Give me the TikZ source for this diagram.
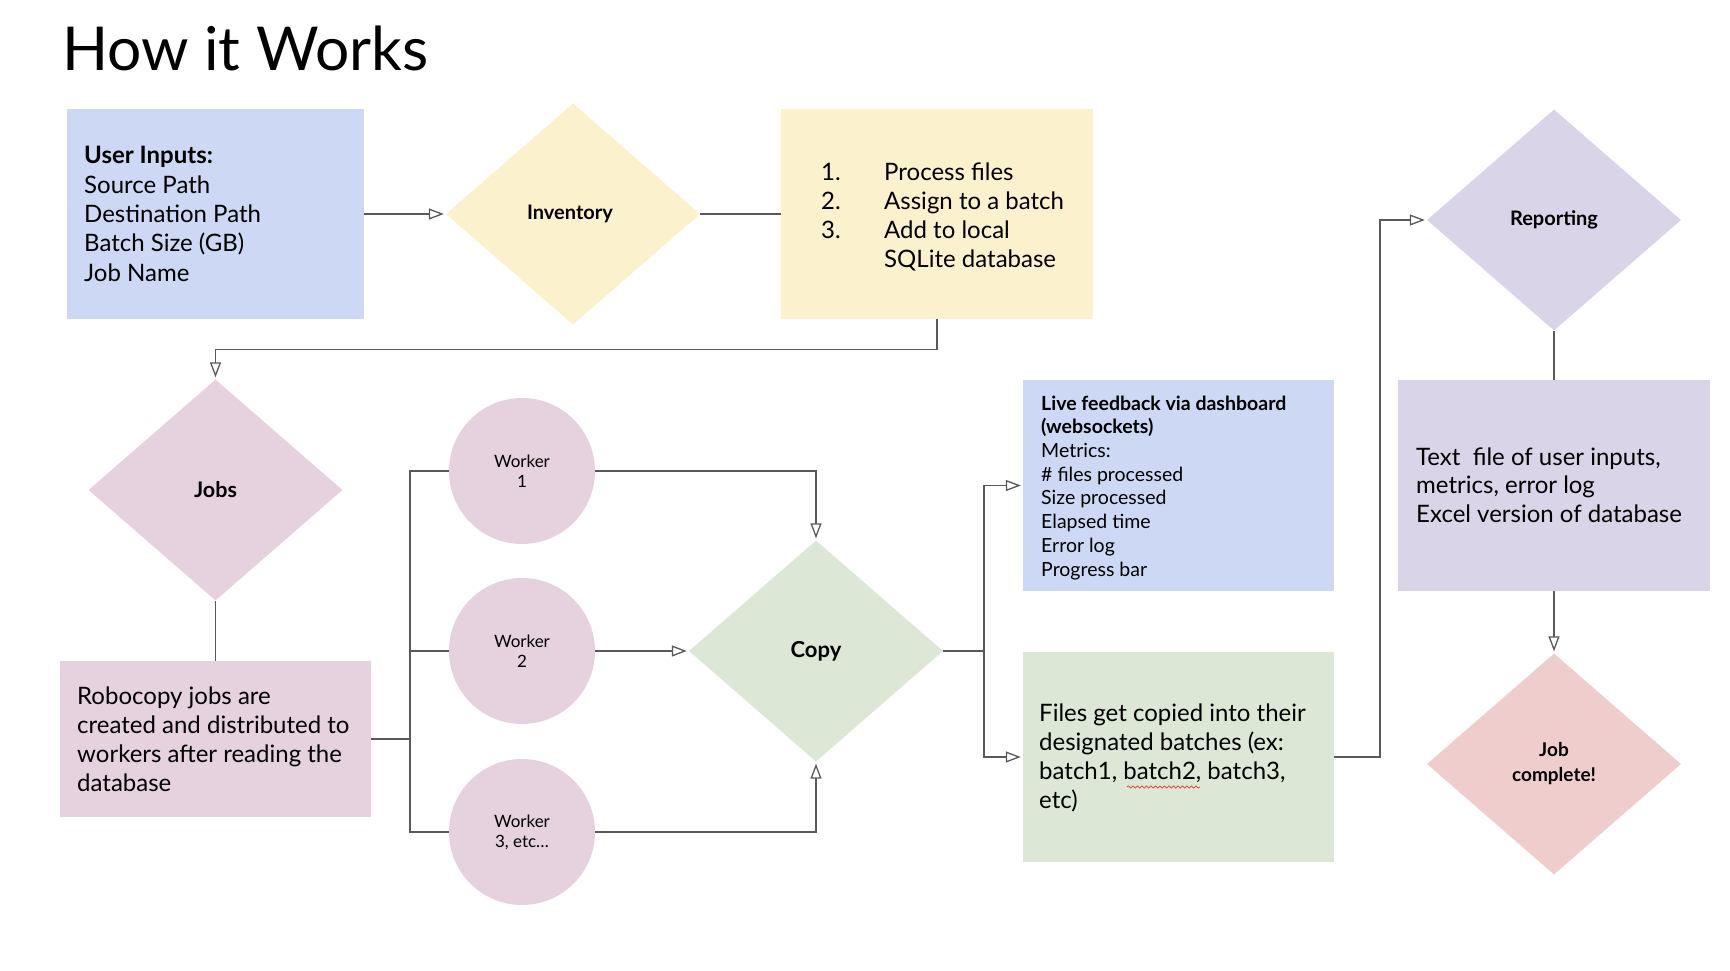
\documentclass[tikz,border=0pt]{standalone}
\usepackage{fontspec}
\setmainfont{Lato}
\usetikzlibrary{shapes.geometric,arrows.meta,decorations.pathmorphing}
\definecolor{cblue}{HTML}{CDD9F4}
\definecolor{cyel}{HTML}{FCF1CD}
\definecolor{cpink}{HTML}{E6D2DE}
\definecolor{cgreen}{HTML}{DCE8D5}
\definecolor{cpurp}{HTML}{D9D4E8}
\definecolor{cred}{HTML}{EFCDCD}
\definecolor{cline}{HTML}{595959}
\definecolor{csquig}{HTML}{E03A3A}
\begin{document}
\begin{tikzpicture}[x=1pt,y=-1pt,
  rbox/.style={rectangle, draw=none, inner sep=0pt},
  dia/.style={diamond, draw=none, inner sep=0pt, minimum width=254pt, minimum height=221pt, align=center},
  wk/.style={circle, draw=none, fill=cpink, minimum size=146pt, inner sep=0pt, align=center, font=\fontsize{17}{20}\selectfont},
  txt/.style={inner sep=0pt, align=left, anchor=base west},
  ln/.style={draw=cline, line width=1.3pt},
  arr/.style={ln, -{Triangle[length=15pt, width=11pt, fill=white]}, shorten >=2pt},
  squig/.style={draw=csquig, line width=0.7pt, decorate, decoration={snake, amplitude=1.1pt, segment length=4.5pt}}
]
\useasboundingbox (0,0) rectangle (1730,970);
\fill[white] (0,0) rectangle (1730,970);

% title
\node[inner sep=0pt, anchor=base west, font=\fontsize{60.5}{70}\selectfont] (title) at (62,70) {How it Works};

% row 1
\node[rbox, fill=cblue, minimum width=297pt, minimum height=210pt] (ui) at (215.5,214) {};
\node[txt, font=\fontsize{24}{29.3}\selectfont] (uit) at (84,281) {\textbf{User Inputs:}\\Source Path\\Destination Path\\Batch Size (GB)\\Job Name};

\node[dia, fill=cyel, font=\bfseries\fontsize{20}{24}\selectfont] (inv) at (573,214) {\hspace*{-6pt}Inventory};

\node[rbox, fill=cyel, minimum width=312pt, minimum height=210pt] (yel) at (937,214) {};
\node[txt, font=\fontsize{24}{29}\selectfont] (yelt) at (821,267) {\makebox[63pt][l]{1.}Process files\\\makebox[63pt][l]{2.}Assign to a batch\\\makebox[63pt][l]{3.}Add to local\\\hspace*{63pt}SQLite database};

% jobs
\node[dia, fill=cpink, font=\bfseries\fontsize{21.5}{24}\selectfont] (jobs) at (215.5,490) {Jobs};
\node[rbox, fill=cpink, minimum width=311pt, minimum height=156pt] (rob) at (215.5,739) {};
\node[txt, font=\fontsize{24}{29}\selectfont] (robt) at (77,791) {Robocopy jobs are\\created and distributed to\\workers after reading the\\database};

% workers
\node[wk] (w1) at (522,471) {Worker\\1};
\node[wk] (w2) at (522,651) {Worker\\2};
\node[wk] (w3) at (522,832) {Worker\\3, etc…};

% copy
\node[dia, fill=cgreen, font=\bfseries\fontsize{22}{24}\selectfont] (copy) at (816,651) {Copy};

% outputs
\node[rbox, fill=cblue, minimum width=311pt, minimum height=211pt] (blue) at (1178.5,485.5) {};
\node[txt, font=\fontsize{19.5}{23.7}\selectfont] (bluet) at (1041,576) {\textbf{Live feedback via dashboard}\\\textbf{(websockets)}\\Metrics:\\\# files processed\\Size processed\\Elapsed time\\Error log\\Progress bar};

\node[rbox, fill=cgreen, minimum width=311pt, minimum height=210pt] (green) at (1178.5,757) {};
\node[txt, font=\fontsize{24}{29}\selectfont] (greent) at (1039,808) {Files get copied into their\\designated batches (ex:\\batch1, batch2, batch3,\\etc)};
\draw[squig] (1127,787) -- (1200,787);

% reporting
\node[dia, fill=cpurp, font=\bfseries\fontsize{20}{24}\selectfont] (rep) at (1554,220) {Reporting};
\node[rbox, fill=cpurp, minimum width=312pt, minimum height=211pt] (purp) at (1554,485.5) {};
\node[txt, font=\fontsize{24}{28.5}\selectfont] (purpt) at (1416,522) {Text\ \ file of user inputs,\\metrics, error log\\Excel version of database};

\node[dia, fill=cred, font=\bfseries\fontsize{19}{25}\selectfont] (jc) at (1554,764) {Job\\complete!};

% connectors
\draw[arr] (ui.east) -- (inv.west);
\draw[ln] (inv.east) -- (yel.west);
\draw[arr] (yel.south) -- ++(0,30) -| (jobs.north);
\draw[ln] (jobs.south) -- (rob.north);
\coordinate (tr) at (410,739);
\draw[ln] (rob.east) -- (tr);
\draw[ln] (w1.west) -| (tr);
\draw[ln] (w3.west) -| (tr);
\draw[ln] (w2.west) -- (w2.west -| tr);
\draw[arr] (w1.east) -| (copy.north);
\draw[arr] (w2.east) -- (copy.west);
\draw[arr] (w3.east) -| (copy.south);
\coordinate (sp) at (984,651);
\draw[ln] (copy.east) -- (sp);
\draw[arr] (sp) |- (blue.west);
\draw[arr] (sp) |- (green.west);
\coordinate (gr) at (1380,757);
\draw[arr] (green.east) -- (gr) |- (rep.west);
\draw[ln] (rep.south) -- (purp.north);
\draw[arr] (purp.south) -- (jc.north);
\end{tikzpicture}
\end{document}
